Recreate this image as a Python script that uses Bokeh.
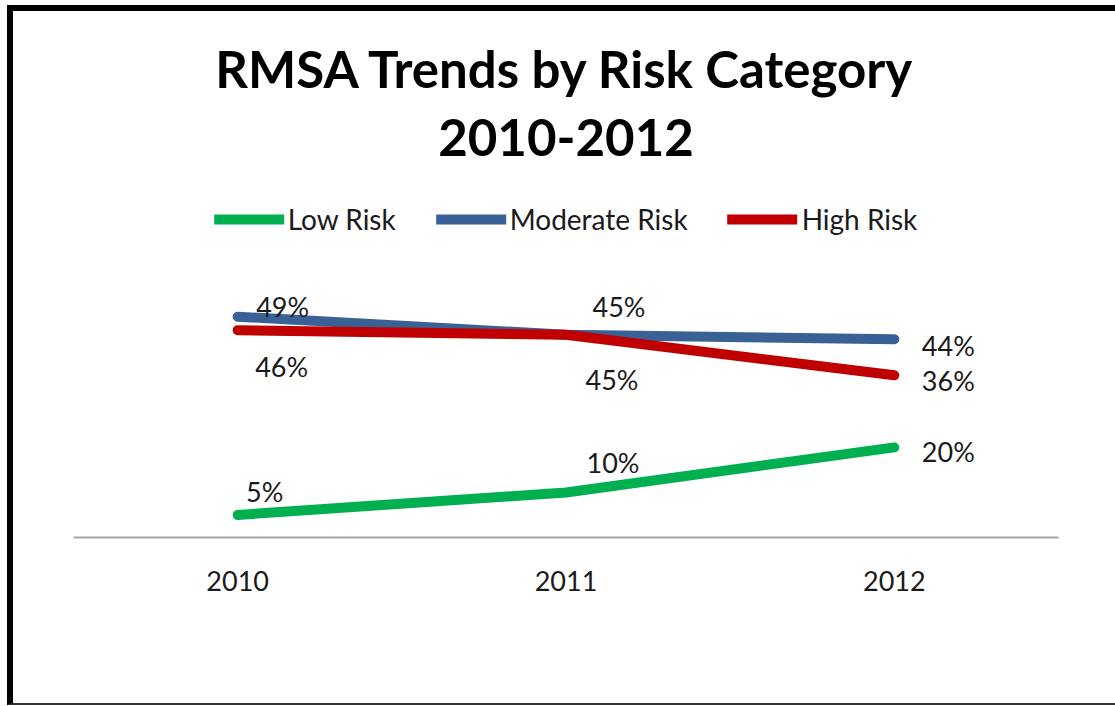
from bokeh.plotting import figure
from bokeh.models import Range1d, Legend, LegendItem, Title, ColumnDataSource
from bokeh.core.properties import value
from bokeh.embed import file_html
from bokeh.resources import INLINE

# ---- data ----
years = ["2010", "2011", "2012"]
low_risk = [5, 10, 20]
moderate_risk = [49, 45, 44]
high_risk = [46, 45, 36]
series_names = ["Low Risk", "Moderate Risk", "High Risk"]
title_line1 = "RMSA Trends by Risk Category"
title_line2 = "2010-2012"

# ---- styling (label offsets in screen px) ----
colors = ["#00B050", "#3A6195", "#C00000"]
label_dx = [[27, 47, 54], [45, 53, 54], [44, 46, 54]]
label_dy = [[-23, -30, 4], [-10, -28, 6], [36, 45, 5]]
FONT = "Lato"

p = figure(width=1108, height=700, x_range=years, y_range=Range1d(0, 77),
           output_backend="svg", toolbar_location=None,
           min_border_left=60, min_border_right=63, min_border_bottom=174,
           min_border_top=179)
p.styles = {"margin-left": "7px", "margin-top": "5px", "overflow": "hidden",
            "border-left": "6px solid black", "border-top": "6px solid black",
            "border-right": "none", "border-bottom": "2px solid #333333"}
p.outline_line_color = None
p.grid.visible = False
p.yaxis.visible = False
p.background_fill_color = "white"
p.border_fill_color = "white"

xa = p.xaxis[0]
xa.axis_line_color = "#A6A6A6"
xa.axis_line_width = 2
xa.major_tick_line_color = None
xa.minor_tick_line_color = None
xa.major_tick_in = 0
xa.major_tick_out = 0
xa.major_label_standoff = 33
xa.major_label_text_font = FONT
xa.major_label_text_font_size = "27px"
xa.major_label_text_color = "#1A1A1A"

items = []
for vals, name, col, dxs, dys in zip([low_risk, moderate_risk, high_risk],
                                     series_names, colors, label_dx, label_dy):
    src = ColumnDataSource(dict(x=years, y=vals, t=[f"{v}%" for v in vals],
                                dx=dxs, dy=dys))
    r = p.line("x", "y", source=src, line_color=col, line_width=10,
               line_cap="round", line_join="round")
    p.text("x", "y", text="t", source=src, x_offset="dx", y_offset="dy",
           text_font=value(FONT), text_font_size="27px", text_color="#1A1A1A",
           text_align="center", text_baseline="middle")
    items.append(LegendItem(label=name, renderers=[r]))

legend = Legend(items=items, orientation="horizontal", location="top_center",
                label_text_font=FONT, label_text_font_size="28px",
                label_text_color="#1A1A1A", glyph_width=70, glyph_height=30,
                spacing=40, label_standoff=4, border_line_color=None,
                background_fill_alpha=0, padding=4, margin=12)
p.add_layout(legend, "center")

t2 = Title(text=title_line2, align="center", text_font=FONT,
           text_font_size="51px", text_font_style="bold", text_color="black",
           standoff=69)
t1 = Title(text=title_line1, align="center", text_font=FONT,
           text_font_size="51px", text_font_style="bold", text_color="black",
           standoff=-33)
p.add_layout(t2, "above")
p.add_layout(t1, "above")

open("out.html", "w").write(file_html(p, INLINE))
